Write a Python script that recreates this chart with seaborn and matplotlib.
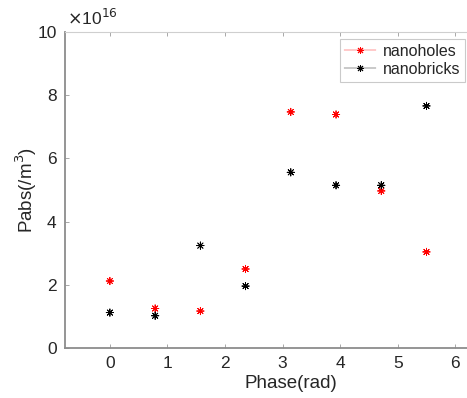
import numpy as np
import pandas as pd
import matplotlib
matplotlib.use("Agg")
import matplotlib.pyplot as plt
import seaborn as sns

phase = [0, np.pi/4, np.pi/2, 3*np.pi/4, np.pi, 5*np.pi/4, 3*np.pi/2, 7*np.pi/4]
nanoholes = [2.12, 1.25, 1.17, 2.50, 7.47, 7.39, 4.97, 3.04]
nanobricks = [1.12, 1.02, 3.24, 1.96, 5.56, 5.15, 5.15, 7.66]
series_names = ["nanoholes", "nanobricks"]
xticks = [0, 1, 2, 3, 4, 5, 6]
yticks = [0, 2, 4, 6, 8, 10]

df = pd.DataFrame({
    "Phase": phase * 2,
    "Pabs": nanoholes + nanobricks,
    "series": [series_names[0]] * len(phase) + [series_names[1]] * len(phase),
})

sns.set_style("white")
plt.rcParams["font.family"] = ["Liberation Sans", "DejaVu Sans"]

fig = plt.figure(figsize=(4.67, 3.98), dpi=100)
ax = fig.add_axes([65/467, 50/398, 452/467, 316/398])

ast = (8, 2, 0)
sns.scatterplot(data=df, x="Phase", y="Pabs", hue="series", style="series",
                markers={series_names[0]: ast, series_names[1]: ast},
                palette={series_names[0]: "#ff0000", series_names[1]: "#000000"},
                s=28, linewidth=0.6, ax=ax, legend=False)

ax.set_xlim(-0.78, 7.07)
ax.set_ylim(0, 10)
ax.set_xticks(xticks)
ax.set_yticks(yticks)
ax.set_xticklabels([str(t) for t in xticks], fontsize=12.5, color="#262626")
ax.set_yticklabels([str(t) for t in yticks], fontsize=12.5, color="#262626")
ax.tick_params(direction="in", length=3, width=0.6, color="#9a9a9a",
               top=True, bottom=True, left=True, pad=6)
ax.set_xlabel("Phase(rad)", fontsize=13.5, color="#262626", labelpad=3)
ax.set_ylabel("Pabs(/m$^3$)", fontsize=13.5, color="#262626", labelpad=-1)

for side in ["left", "bottom"]:
    ax.spines[side].set_color("#8c8c8c")
    ax.spines[side].set_linewidth(1.3)
ax.spines["top"].set_color("#cfcfcf")
ax.spines["top"].set_linewidth(0.8)
ax.spines["right"].set_visible(False)

fig.text(67/467, 1 - 18/398, r"$\times$10$^{16}$", fontsize=12.5, color="#262626",
         va="center", ha="left")

from matplotlib.lines import Line2D
handles = [Line2D([], [], color="#ff0000", lw=0.3, marker=ast, markersize=5, mew=0.7),
           Line2D([], [], color="#000000", lw=0.3, marker=ast, markersize=5, mew=0.7)]
leg = fig.legend(handles, series_names, loc="upper right",
                 bbox_to_anchor=(465/467, 1 - 39/398), fontsize=11.5,
                 frameon=True, fancybox=False, handlelength=2.0,
                 handletextpad=0.4, borderpad=0.3, labelspacing=0.2,
                 borderaxespad=0)
leg.get_frame().set_edgecolor("#bdbdbd")
leg.get_frame().set_linewidth(0.8)

fig.savefig("out.png", dpi=100)
